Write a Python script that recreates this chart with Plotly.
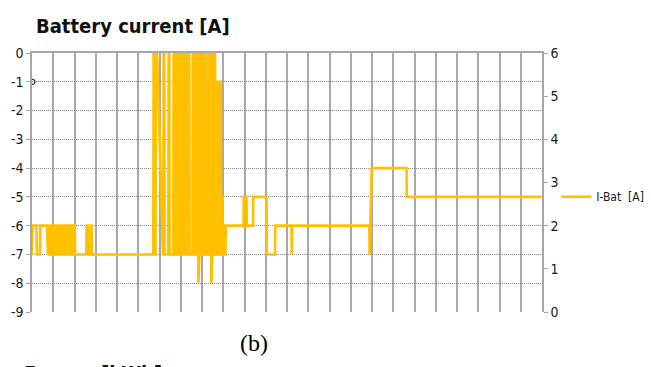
import plotly.graph_objects as go

# Battery current log: sample index vs current [A]
sample = [
    0, 0.5, 4.5, 4.8, 8, 8.3, 15, 15.3,
    16, 16.3, 17, 17.3, 18, 18.3, 19, 19.3, 20, 20.3, 21, 21.3, 22, 22.3, 23, 23.3,
    24, 24.3, 25, 25.3, 26, 26.3, 27, 27.3, 28, 28.3, 29, 29.3, 30, 30.3, 31, 31.3,
    32, 32.3, 33, 33.3, 34, 34.3, 35, 35.3, 36, 36.3, 37, 37.3, 38, 38.3, 39, 39.3,
    40, 40.3, 41, 41.3, 42, 42.3, 42.8, 43.1,
    54.3, 54.6, 56, 56.3, 58.7, 59, 59.6, 59.9,
    121.3, 121.6, 122.5, 122.8, 123.5, 123.8, 125, 131,
    131.3, 131.6, 132.3, 132.6,
    136.3, 136.6, 137.3, 137.6,
    141.3, 141.6, 142.3, 142.6,
    143.8, 144.1, 144.8, 145.1,
    146.3, 146.6, 147.3, 147.6,
    148.5, 148.8, 149.3, 149.6,
    150.5, 150.8, 151.3, 151.6,
    152.5, 152.8, 153.3, 153.6,
    154.5, 154.8, 155.3, 155.6,
    156.5, 156.8, 157.3, 157.6,
    160.5, 160.8, 161.3, 161.6,
    163.0, 163.3, 163.8, 164.1,
    165.3, 165.6, 166.1, 166.4, 166.9,
    167.5, 167.8, 168.3, 168.6,
    170.5, 170.8, 171.3, 171.6,
    172.7, 173.0, 173.5, 173.8,
    176.0, 176.3, 176.8, 177.1,
    178.2, 178.5, 179.0, 179.3, 179.8,
    180.3, 180.6, 181.1, 181.4,
    182.3, 182.6, 183.1, 183.4,
    184.5, 184.8, 185.3, 185.6,
    186.7, 187.0, 187.5, 187.8,
    188.2, 188.5, 188.8, 189.1,
    189.6, 190, 190.5, 190.8, 191.5, 191.8, 192.3, 192.6, 193.4, 193.7,
    211.5, 211.8, 214.5, 214.8, 221, 221.3, 234.5, 234.8, 243, 243.3,
    259.5, 259.8, 260.2, 337.3, 337.6, 339.7, 374.5, 374.8, 509.7,
]
current = [
    -7, -6, -6, -7, -7, -6, -6, -7,
    -7, -6, -6, -7, -7, -6, -6, -7, -7, -6, -6, -7, -7, -6, -6, -7,
    -7, -6, -6, -7, -7, -6, -6, -7, -7, -6, -6, -7, -7, -6, -6, -7,
    -7, -6, -6, -7, -7, -6, -6, -7, -7, -6, -6, -7, -7, -6, -6, -7,
    -7, -6, -6, -7, -7, -6, -6, -7,
    -7, -6, -6, -7, -7, -6, -6, -7,
    -7, 0, 0, -7, -7, 0, 0, -7,
    -7, 0, 0, -7,
    -7, 0, 0, -7,
    -7, 0, 0, -7,
    -7, 0, 0, -7,
    -7, 0, 0, -7,
    -7, 0, 0, -7,
    -7, 0, 0, -7,
    -7, 0, 0, -7,
    -7, 0, 0, -7,
    -7, 0, 0, -7,
    -7, 0, 0, -7,
    -7, 0, 0, -7,
    -7, 0, 0, -8, -7,
    -7, 0, 0, -7,
    -7, 0, 0, -7,
    -7, 0, 0, -7,
    -7, 0, 0, -7,
    -7, 0, 0, -8, -7,
    -7, 0, 0, -7,
    -7, 0, 0, -7,
    -7, -1, -1, -7,
    -7, -1, -1, -7,
    -7, -1, -1, -7,
    -7, -5, -5, -7, -7, -6, -6, -7, -7, -6,
    -6, -5, -5, -6, -6, -5, -5, -7, -7, -6,
    -6, -7, -6, -6, -7, -4, -4, -5, -5,
]

series_name = "I-Bat  [A]"
left_ticks = [0, -1, -2, -3, -4, -5, -6, -7, -8, -9]
right_ticks = [0, 1, 2, 3, 4, 5, 6]

GOLD = "#FFC000"
AXIS = "#a6a6a6"
NARROW = "DejaVu Sans Condensed, Liberation Sans Narrow, sans-serif"

fig = go.Figure()
fig.add_trace(go.Scatter(
    x=sample, y=current, mode="lines", name=series_name,
    line=dict(color=GOLD, width=2.6),
))
# small start marker near the top-left of the plot
fig.add_trace(go.Scatter(
    x=[0.4], y=[-1], mode="markers", showlegend=False,
    marker=dict(symbol="circle-open", size=5, color="#333", line=dict(width=1.2)),
))
# secondary scale on the right
fig.add_trace(go.Scatter(x=[None], y=[None], yaxis="y2", showlegend=False))

fig.update_layout(
    width=651, height=367,
    margin=dict(l=32, r=109, t=53, b=55, autoexpand=False),
    paper_bgcolor="white", plot_bgcolor="white",
    font=dict(family=NARROW, size=14, color="#1a1a1a"),
    xaxis=dict(
        range=[0, 510], tick0=0, dtick=21.25, showticklabels=False,
        ticks="", showgrid=True, gridcolor="#a8a8a8", gridwidth=1.5,
        showline=True, linecolor=AXIS, linewidth=1.5, side="top",
        zeroline=False,
    ),
    yaxis=dict(
        range=[-9, 0], tickvals=left_ticks, ticktext=[str(v) for v in left_ticks],
        showgrid=True, gridcolor="#8a8a8a", griddash="1px,1px", gridwidth=1,
        showline=True, linecolor=AXIS, linewidth=1.5,
        ticks="outside", ticklen=4, tickcolor=AXIS, zeroline=False,
        tickfont=dict(family=NARROW, size=14, color="#1a1a1a"),
    ),
    yaxis2=dict(
        range=[0, 6], tickvals=right_ticks, overlaying="y", side="right",
        showgrid=False, showline=True, linecolor=AXIS, linewidth=1.5,
        ticks="outside", ticklen=4, tickcolor=AXIS, zeroline=False,
        tickfont=dict(family=NARROW, size=14, color="#1a1a1a"),
    ),
    legend=dict(
        x=1.028, y=0.445, xanchor="left", yanchor="middle",
        font=dict(family=NARROW, size=12, color="#1a1a1a"),
        bgcolor="rgba(0,0,0,0)", itemwidth=30,
    ),
    annotations=[
        dict(text="<b>Battery current [A]</b>", xref="paper", yref="paper",
             x=0.004, y=1.104, xanchor="left", yanchor="middle", showarrow=False,
             font=dict(family=NARROW, size=20, color="#111")),
        dict(text="(b)", xref="paper", yref="paper", x=0.4356, y=-0.121,
             xanchor="center", yanchor="middle", showarrow=False,
             font=dict(family="Liberation Serif, Times New Roman, serif", size=24, color="#000")),
        dict(text="<b>Energy [kWh]</b>", xref="paper", yref="paper", x=-0.02, y=-0.183,
             xanchor="left", yanchor="top", showarrow=False,
             font=dict(family=NARROW, size=20, color="#111")),
    ],
)

fig.write_html("out.html")
